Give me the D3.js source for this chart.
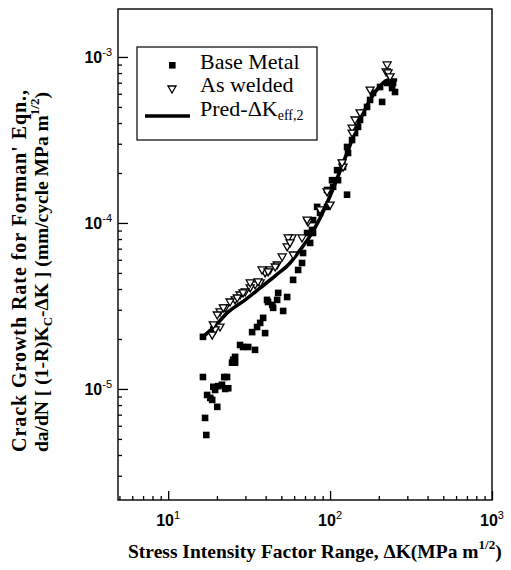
<!DOCTYPE html>
<html><head><meta charset="utf-8">
<script src="https://cdn.jsdelivr.net/npm/d3@7"></script>
<style>body{margin:0;background:#fff}svg{display:block}</style>
</head><body><svg id="c" width="511" height="570"></svg>
<script>
// ---- data (ΔK in MPa m^1/2, rate in mm/cycle MPa m^1/2) ----
const baseMetalK = [16.4,16.9,17.2,17.4,18.2,18.7,19.0,19.5,20.1,20.4,21.5,22.2,23.1,23.5,22.5,16.4,19.0,25.2,25.9,24.8,25.9,27.8,29.0,31.2,34.4,33.0,35.4,37.0,38.6,39.7,40.8,43.9,44.5,51.3,41.4,47.8,54.3,47.1,59.1,63.5,67.1,68.1,75.3,78.5,72.1,78.5,83.2,86.7,95.8,102.8,110.5,118.6,127.3,136.7,142.6,148.9,153.1,159.8,169.2,176.6,184.2,203.5,225.0,244.9,251.8,241.4,127.3,209.6,129.1,120.2,112.0,104.4,95.8,77.4];
const baseMetalRate = [1.18e-5,6.69e-6,5.28e-6,9.20e-6,8.83e-6,8.59e-6,1.03e-5,9.86e-6,7.80e-6,1.04e-5,1.06e-5,1.18e-5,1.18e-5,1.01e-5,1.00e-5,2.06e-5,2.27e-5,1.50e-5,1.44e-5,1.44e-5,1.56e-5,1.84e-5,1.79e-5,1.79e-5,1.72e-5,2.20e-5,2.36e-5,2.50e-5,2.68e-5,2.17e-5,3.44e-5,3.21e-5,3.08e-5,2.95e-5,3.34e-5,3.79e-5,3.58e-5,3.44e-5,4.54e-5,5.21e-5,5.74e-5,6.59e-5,7.58e-5,8.70e-5,8.70e-5,1.04e-4,1.25e-4,1.15e-4,1.58e-4,1.81e-4,2.08e-4,2.30e-4,2.87e-4,3.16e-4,3.48e-4,3.79e-4,4.17e-4,4.60e-4,5.00e-4,5.51e-4,6.07e-4,6.59e-4,6.97e-4,6.97e-4,6.15e-4,6.50e-4,1.48e-4,5.36e-4,2.64e-4,2.17e-4,1.81e-4,1.65e-4,1.25e-4,9.08e-5];
const asWeldedK = [225.0,221.9,228.2,234.6,176.6,142.6,136.7,120.2,100,73.1,58.3,67.1,55.1,54.3,72.1,95.8,118.6,136.7,56.6,50.6,59.1,47.1,42.6,39.7,37.0,34.4,32.1,29.9,27.8,25.9,24.1,22.5,20.9,20.9,19.5,18.7,32.1,38.0,45.8,41.4,35.9,29.0,26.7,21.9,20.1,19.0,86.7,153.1];
const asWeldedRate = [8.95e-4,8.12e-4,8.01e-4,7.58e-4,6.32e-4,4.17e-4,3.73e-4,2.17e-4,1.28e-4,1.01e-4,8.12e-5,8.12e-5,8.12e-5,7.17e-5,1.04e-4,1.54e-4,2.30e-4,3.48e-4,7.58e-5,6.24e-5,6.41e-5,5.58e-5,5.21e-5,5.00e-5,4.35e-5,4.24e-5,4.06e-5,3.84e-5,3.68e-5,3.44e-5,3.34e-5,3.08e-5,2.91e-5,2.36e-5,2.27e-5,2.11e-5,4.35e-5,5.21e-5,5.43e-5,5.07e-5,4.42e-5,3.79e-5,3.53e-5,3.08e-5,2.79e-5,2.43e-5,1.20e-4,4.60e-4];
const predK = [16.4,19.5,23.5,29.9,37.0,45.8,56.6,65.3,75.3,86.7,95.8,127.3,153.1,176.6,203.5,228.2,259.6];
const predRate = [2.06e-5,2.40e-5,2.91e-5,3.44e-5,4.06e-5,4.80e-5,5.74e-5,6.87e-5,8.36e-5,1.07e-4,1.32e-4,2.64e-4,4.17e-4,5.51e-4,6.68e-4,7.26e-4,7.26e-4];
const xTickExps = [1,2,3];
const yTickExps = [-3,-4,-5];
const legendNames = ["Base Metal","As welded","Pred-\u0394K"];
const legendSub = "eff,2";
const xTitle = "Stress Intensity Factor Range, \u0394K(MPa m";
const yTitle1 = "Crack Growth Rate for Forman' Eqn.,";
const yTitle2a = "da/dN [ (1-R)K";
const yTitle2b = "-\u0394K ] (mm/cycle MPa m";

// ---- chart ----
const svg = d3.select("#c");
const L = 118, R = 492, T = 9, B = 500;
const x = d3.scaleLog().domain([4.9, 1000]).range([L, R]);
const y = d3.scaleLog().domain([2.143e-6, 1.945e-3]).range([B, T]);
const serif = "'Liberation Serif','Times New Roman',serif";
const sans = "'Liberation Sans',Arial,sans-serif";

svg.append("rect").attr("width",511).attr("height",570).attr("fill","#fff");

const minorX = [], minorY = [];
[1,10,100].forEach(d => { for (let m=2;m<=9;m++){ const v=d*m; if (v>x.domain()[0] && v<x.domain()[1]) minorX.push(v);} });
[1e-6,1e-5,1e-4,1e-3].forEach(d => { for (let m=2;m<=9;m++){ const v=d*m; if (v>y.domain()[0] && v<y.domain()[1]) minorY.push(v);} });

function styleAxis(g){ g.select(".domain").remove(); g.selectAll("line").attr("stroke","#000").attr("stroke-width",1.3); }

svg.append("g").attr("transform",`translate(0,${B})`)
  .call(d3.axisBottom(x).tickValues(xTickExps.map(e=>Math.pow(10,e))).tickSize(-9).tickFormat("")).call(styleAxis);
svg.append("g").attr("transform",`translate(0,${B})`)
  .call(d3.axisBottom(x).tickValues(minorX).tickSize(-4).tickFormat("")).call(styleAxis);
svg.append("g").attr("transform",`translate(${L},0)`)
  .call(d3.axisLeft(y).tickValues(yTickExps.map(e=>Math.pow(10,e))).tickSize(-10).tickFormat("")).call(styleAxis);
svg.append("g").attr("transform",`translate(${L},0)`)
  .call(d3.axisLeft(y).tickValues(minorY).tickSize(-4).tickFormat("")).call(styleAxis);

svg.append("rect").attr("x",L).attr("y",T).attr("width",R-L).attr("height",B-T)
  .attr("fill","none").attr("stroke","#000").attr("stroke-width",1.4);

xTickExps.forEach(e => {
  const t = svg.append("text").attr("x", x(Math.pow(10,e))).attr("y", 526)
    .attr("text-anchor","middle").attr("font-family",sans).attr("font-size",16).attr("font-weight","bold");
  t.append("tspan").text("10");
  t.append("tspan").attr("dy",-7).attr("font-size",11).attr("font-weight","normal").text(e);
});
yTickExps.forEach(e => {
  const t = svg.append("text").attr("x", 112).attr("y", y(Math.pow(10,e))+6)
    .attr("text-anchor","end").attr("font-family",sans).attr("font-size",16).attr("font-weight","bold");
  t.append("tspan").text("10");
  t.append("tspan").attr("dy",-7).attr("font-size",11).attr("font-weight","normal").text("-"+Math.abs(e));
});

const predData = predK.map((k,i)=>({k, r: predRate[i]}));
svg.append("path").datum(predData)
  .attr("d", d3.line().x(d=>x(d.k)).y(d=>y(d.r)).curve(d3.curveMonotoneX))
  .attr("fill","none").attr("stroke","#000").attr("stroke-width",3.6);

const bm = baseMetalK.map((k,i)=>({k, r: baseMetalRate[i]}));
svg.append("g").selectAll("rect").data(bm).join("rect")
  .attr("x",d=>x(d.k)-3.3).attr("y",d=>y(d.r)-3.3).attr("width",6.6).attr("height",6.6).attr("fill","#000");

const tri = "M-4,-3L4,-3L0,4Z";
const aw = asWeldedK.map((k,i)=>({k, r: asWeldedRate[i]}));
svg.append("g").selectAll("path").data(aw).join("path")
  .attr("transform",d=>`translate(${x(d.k)},${y(d.r)})`).attr("d",tri)
  .attr("fill","#fff").attr("stroke","#000").attr("stroke-width",1.3);

const lg = svg.append("g");
lg.append("rect").attr("x",137).attr("y",47).attr("width",180).attr("height",93)
  .attr("fill","#fff").attr("stroke","#000").attr("stroke-width",1.2);
lg.append("rect").attr("x",169).attr("y",62).attr("width",6.6).attr("height",6.6).attr("fill","#000");
lg.append("path").attr("transform","translate(172,89)").attr("d",tri).attr("fill","#fff").attr("stroke","#000").attr("stroke-width",1.3);
lg.append("line").attr("x1",145).attr("x2",190).attr("y1",116).attr("y2",116).attr("stroke","#000").attr("stroke-width",3.6);
lg.append("text").attr("x",200).attr("y",69).attr("font-family",serif).attr("font-size",22).text(legendNames[0]);
lg.append("text").attr("x",200).attr("y",92).attr("font-family",serif).attr("font-size",22).text(legendNames[1]);
const lt = lg.append("text").attr("x",200).attr("y",116).attr("font-family",serif).attr("font-size",22);
lt.append("tspan").text(legendNames[2]);
lt.append("tspan").attr("dy",4).attr("font-size",14).text(legendSub);

const xt = svg.append("text").attr("x",128).attr("y",558).attr("font-family",serif)
  .attr("font-size",19.5).attr("font-weight","bold");
xt.append("tspan").text(xTitle);
xt.append("tspan").attr("dy",-9).attr("font-size",13).text("1/2");
xt.append("tspan").attr("dy",9).text(")");

svg.append("text").attr("transform","rotate(-90)").attr("x",-452).attr("y",26)
  .attr("font-family",serif).attr("font-size",20).attr("font-weight","bold")
  .attr("textLength",362).attr("lengthAdjust","spacing").text(yTitle1);
const yt2 = svg.append("text").attr("transform","rotate(-90)").attr("x",-452).attr("y",48)
  .attr("font-family",serif).attr("font-size",19.5).attr("font-weight","bold");
yt2.append("tspan").text(yTitle2a);
yt2.append("tspan").attr("dy",4).attr("font-size",13).text("C");
yt2.append("tspan").attr("dy",-4).text(yTitle2b);
yt2.append("tspan").attr("dy",-9).attr("font-size",13).text("1/2");
yt2.append("tspan").attr("dy",9).text(")");
</script></body></html>
